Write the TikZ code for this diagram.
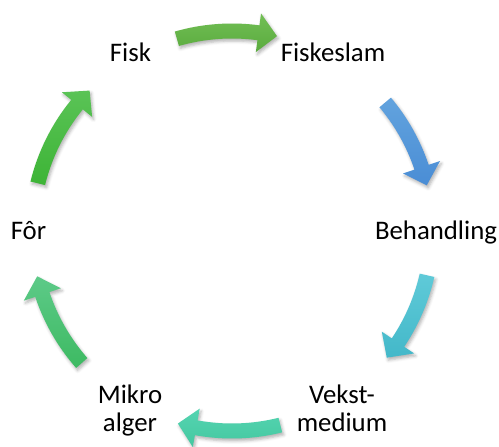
\documentclass[tikz,border=0pt]{standalone}
\usepackage{fontspec}
\setmainfont{Carlito}
\usetikzlibrary{calc,shadows.blur}

% arrow colours (lighter top / darker bottom)
\definecolor{aTopA}{HTML}{72BF55}\definecolor{aTopB}{HTML}{5AAB3E}
\definecolor{aRtA}{HTML}{62A3DE}\definecolor{aRtB}{HTML}{4A8DD5}
\definecolor{aRbA}{HTML}{5FCAD8}\definecolor{aRbB}{HTML}{43B8C9}
\definecolor{aBoA}{HTML}{55D4B1}\definecolor{aBoB}{HTML}{44C8A0}
\definecolor{aLbA}{HTML}{5DCA88}\definecolor{aLbB}{HTML}{3DBA62}
\definecolor{aLtA}{HTML}{5AC356}\definecolor{aLtB}{HTML}{3DB436}

% geometry of the curved arrows around the cycle
\def\cycR{200}   % radius of the arrow centre line
\def\cycW{7.5}   % half width of the shaft
\def\cycH{19.5}  % half width of the head
\def\cycL{5.4}   % head length, degrees

% #1 tail angle, #2 tip angle (clockwise), #3 top colour, #4 bottom colour
\newcommand\cycarrow[4]{%
  \pgfmathsetmacro\cycHb{#2+\cycL}%
  \pgfmathsetmacro\cycRo{\cycR+\cycW}%
  \pgfmathsetmacro\cycRi{\cycR-\cycW}%
  \pgfmathsetmacro\cycRho{\cycR+\cycH}%
  \pgfmathsetmacro\cycRhi{\cycR-\cycH}%
  \shade[cycshadow, top color=#3, bottom color=#4]
    ($(O)+(#1:\cycRo)$) arc[start angle=#1, end angle=\cycHb, radius=\cycRo]
    -- ($(O)+(\cycHb:\cycRho)$) -- ($(O)+(#2:\cycR)$) -- ($(O)+(\cycHb:\cycRhi)$)
    -- ($(O)+(\cycHb:\cycRi)$)
    arc[start angle=\cycHb, end angle=#1, radius=\cycRi] -- cycle;}

\begin{document}
\begin{tikzpicture}[x=1pt,y=1pt,
  lbl/.style={font=\fontsize{26.8}{28}\selectfont, text=black,
    inner sep=0pt, align=center, anchor=base},
  cycshadow/.style={blur shadow={shadow xshift=1.5pt, shadow yshift=-2.5pt,
    shadow blur radius=3pt, shadow opacity=30}},
]
\useasboundingbox (0,0) rectangle (499,-447);
\coordinate (O) at (232,-231);

% stages of the cycle (base anchor of two-line labels is the last line)
\node[lbl] (fisk)       at (130.5,-61)  {Fisk};
\node[lbl] (fiskeslam)  at (333,-61)    {Fiskeslam};
\node[lbl] (behandling) at (436,-239.5) {Behandling};
\node[lbl] (vekst)      at (342,-431)   {Vekst-\\medium};
\node[lbl] (mikro)      at (130,-431)   {Mikro\\alger};
\node[lbl] (for)        at (28.5,-239.5){Fôr};

% curved arrows between the stages
\cycarrow{106}{77}{aTopA}{aTopB}
\cycarrow{40}{13.2}{aRtA}{aRtB}
\cycarrow{-12.8}{-39.3}{aRbA}{aRbB}
\cycarrow{284}{254.3}{aBoA}{aBoB}
\cycarrow{221.3}{193.1}{aLbA}{aLbB}
\cycarrow{166.2}{135.4}{aLtA}{aLtB}
\end{tikzpicture}
\end{document}
